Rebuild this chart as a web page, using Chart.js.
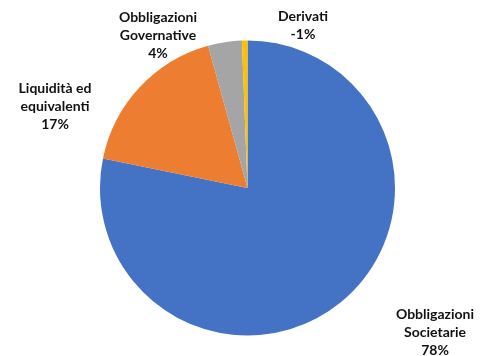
<!DOCTYPE html>
<html>
<head>
<meta charset="utf-8">
<script src="https://cdn.jsdelivr.net/npm/chart.js@4"></script>
<style>
  html, body { margin: 0; padding: 0; background: #fff; }
  #wrap { width: 489px; height: 356px; }
</style>
</head>
<body>
<div id="wrap"><canvas id="pie"></canvas></div>
<script>
const categories = ['Obbligazioni Societarie', 'Liquidità ed equivalenti', 'Obbligazioni Governative', 'Derivati']
const shares = [78.2, 17.5, 3.7, 0.6]
const labelLines = [
  ['Obbligazioni', 'Societarie', '78%'],
  ['Liquidità ed', 'equivalenti', '17%'],
  ['Obbligazioni', 'Governative', '4%'],
  ['Derivati', '-1%']
]
const colors = ['#4472C4', '#ED7D31', '#A5A5A5', '#FFC000']

// where each label block sits, relative to the pie centre
const labelOffsets = [[187.5, 144], [-192.5, -82], [-89.5, -153], [55.5, -163]]

const outsideLabels = {
  id: 'outsideLabels',
  afterDraw (chart) {
    const { ctx } = chart
    const meta = chart.getDatasetMeta(0)
    const cx = meta.data[0].x
    const cy = meta.data[0].y
    ctx.save()
    ctx.font = 'bold 14px Lato'
    ctx.fillStyle = '#111'
    ctx.textAlign = 'center'
    ctx.textBaseline = 'middle'
    const lh = 18
    labelLines.forEach((lines, i) => {
      const x = cx + labelOffsets[i][0]
      const y0 = cy + labelOffsets[i][1] - (lines.length - 1) * lh / 2
      lines.forEach((t, j) => ctx.fillText(t, x, y0 + j * lh))
    })
    ctx.restore()
  }
}

new Chart(document.getElementById('pie').getContext('2d'), {
  type: 'pie',
  data: {
    labels: categories,
    datasets: [{
      data: shares,
      backgroundColor: colors,
      borderWidth: 0
    }]
  },
  options: {
    responsive: true,
    maintainAspectRatio: false,
    animation: false,
    layout: { padding: { left: 100, right: 94, top: 40, bottom: 20 } },
    plugins: {
      legend: { display: false },
      tooltip: { enabled: false }
    }
  },
  plugins: [outsideLabels]
})
</script>
</body>
</html>
